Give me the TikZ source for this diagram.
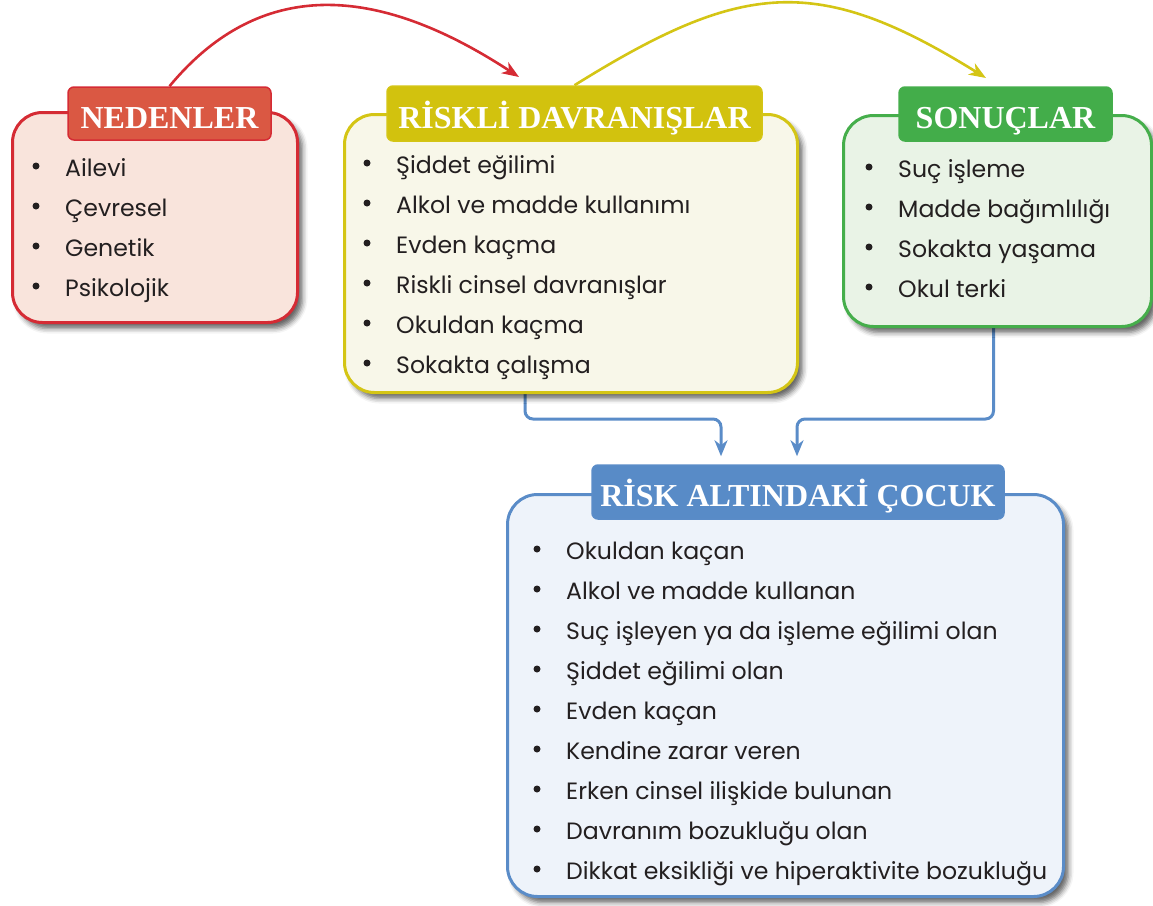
\documentclass[tikz,border=0pt]{standalone}
\usepackage{fontspec}
\setmainfont{Liberation Serif}
\newfontfamily\itemfont{Poppins}
\usetikzlibrary{shadows.blur,arrows.meta}

\definecolor{redline}{HTML}{D52B34}
\definecolor{redtab}{HTML}{DA5843}
\definecolor{redfill}{HTML}{F9E4DC}
\definecolor{yelline}{HTML}{D4C515}
\definecolor{yeltab}{HTML}{D2C20E}
\definecolor{yelfill}{HTML}{F8F7E9}
\definecolor{grnline}{HTML}{45AE4B}
\definecolor{grntab}{HTML}{43AD4A}
\definecolor{grnfill}{HTML}{E9F3E6}
\definecolor{bluline}{HTML}{5A8CC8}
\definecolor{blutab}{HTML}{588BC7}
\definecolor{blufill}{HTML}{EEF3FA}
\definecolor{inktext}{HTML}{231F20}

\pgfdeclarelayer{bg}
\pgfsetlayers{bg,main}

\tikzset{
  panel/.style={draw=#1line, fill=#1fill, line width=3pt, rounded corners=30pt,
    anchor=north west, inner sep=0pt,
    blur shadow={shadow xshift=5pt, shadow yshift=-6pt, shadow blur radius=5pt, shadow opacity=60}},
  tab/.style={draw=#1line, fill=#1tab, line width=1.5pt, rounded corners=6pt,
    text=white, inner sep=0pt, text height=29pt, text depth=0pt,
    font=\bfseries\fontsize{32}{32}\selectfont},
  dot/.style={circle, fill=inktext, inner sep=0pt, minimum size=7pt},
  item/.style={inner sep=0pt, text=inktext, font=\itemfont\fontsize{23.6}{28}\selectfont},
  arc/.style={line width=2.6pt, -{Stealth[length=17pt, width=13pt, inset=5pt]}},
  conn/.style={draw=bluline, line width=3pt, rounded corners=8pt,
    -{Stealth[length=16pt, width=13pt, inset=5pt]}},
}

% one bullet list: name prefix, bullet x, first baseline y, entries
\newcommand{\bulletlist}[4]{%
  \foreach \txt [count=\k] in {#4} {
    \node[dot] (#1d\k) at ({#2}, {#3+40*(\k-1)-10}) {};
    \node[item, anchor=base west] (#1i\k) at ({#2+29}, {#3+40*(\k-1)}) {\txt};
  }%
}

\begin{document}
\begin{tikzpicture}[x=1pt, y=-1pt]
\useasboundingbox (0,0) rectangle (1153,905);

% panels
\node[panel=red, minimum width=285pt, minimum height=210pt] (nedbox) at (11,111) {};
\node[panel=yel, minimum width=453pt, minimum height=278pt] (risbox) at (343,113) {};
\node[panel=grn, minimum width=308pt, minimum height=211pt] (sonbox) at (842,114) {};
\node[panel=blu, minimum width=556pt, minimum height=402pt] (cocbox) at (506,493) {};

% title tabs
\node[tab=red, minimum width=203pt, minimum height=53pt] (nedtab) at (169.5,113.5) {NEDENLER};
\node[tab=yel, minimum width=375pt, minimum height=55pt] (ristab) at (574.5,113.5) {RİSKLİ DAVRANIŞLAR};
\node[tab=grn, minimum width=213pt, minimum height=54pt] (sontab) at (1005.5,114) {SONUÇLAR};
\node[tab=blu, minimum width=412pt, minimum height=54pt] (coctab) at (798,492) {RİSK ALTINDAKİ ÇOCUK};

% lists
\bulletlist{ned}{36}{176}{Ailevi, Çevresel, Genetik, Psikolojik}
\bulletlist{ris}{367}{173}{Şiddet eğilimi, Alkol ve madde kullanımı, Evden kaçma,
  Riskli cinsel davranışlar, Okuldan kaçma, Sokakta çalışma}
\bulletlist{son}{869}{177}{Suç işleme, Madde bağımlılığı, Sokakta yaşama, Okul terki}
\bulletlist{coc}{537}{559}{Okuldan kaçan, Alkol ve madde kullanan,
  Suç işleyen ya da işleme eğilimi olan, Şiddet eğilimi olan, Evden kaçan,
  Kendine zarar veren, Erken cinsel ilişkide bulunan, Davranım bozukluğu olan,
  Dikkat eksikliği ve hiperaktivite bozukluğu}

% arrow end points above the tabs
\coordinate (redend) at (519,77);
\coordinate (yelend) at (986,78);

\begin{pgfonlayer}{bg}
  \draw[arc, draw=redline] (nedtab.north) .. controls (270,-35) and (395,-4) .. (redend);
  \draw[arc, draw=yelline] (ristab.north) .. controls (742,-19) and (817,-27) .. (yelend);
  \draw[conn] ([xshift=182pt]risbox.south west) -- ++(0,25) -| ([xshift=-77pt, yshift=8pt]coctab.north);
  \draw[conn] ([xshift=-4pt]sonbox.south) -- ++(0,91) -| ([xshift=-1pt, yshift=8pt]coctab.north);
\end{pgfonlayer}
\end{tikzpicture}
\end{document}
